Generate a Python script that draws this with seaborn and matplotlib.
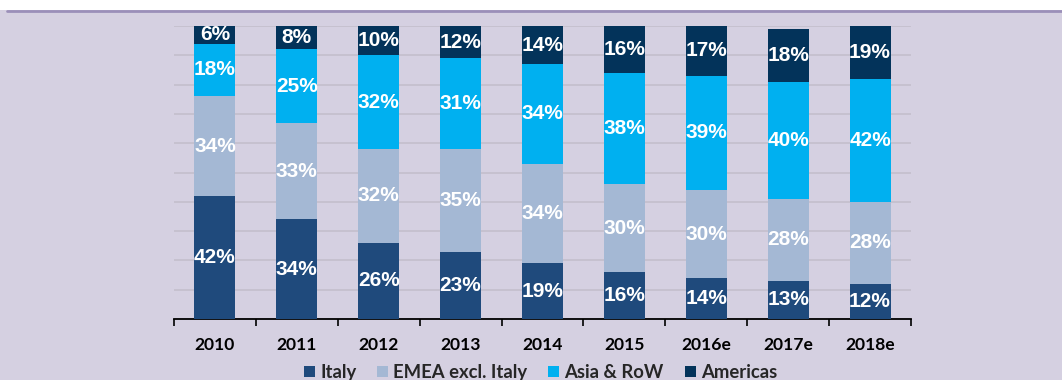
import numpy as np
import pandas as pd
import matplotlib
matplotlib.use("Agg")
import matplotlib.pyplot as plt
from matplotlib.patches import Patch, Rectangle
from matplotlib.lines import Line2D
import seaborn as sns

# Revenue mix by region (% of total)
years = ["2010", "2011", "2012", "2013", "2014", "2015", "2016e", "2017e", "2018e"]
italy = [42, 34, 26, 23, 19, 16, 14, 13, 12]
emea = [34, 33, 32, 35, 34, 30, 30, 28, 28]
asia = [18, 25, 32, 31, 34, 38, 39, 40, 42]
americas = [6, 8, 10, 12, 14, 16, 17, 18, 19]

series_names = ["Italy", "EMEA excl. Italy", "Asia & RoW", "Americas"]
colors = ["#1f4a7c", "#a4b8d4", "#00b0f0", "#03335a"]
BG = "#d5d0e1"

sns.set_theme(style="white")
plt.rcParams["font.family"] = ["Lato", "DejaVu Sans"]

layers = np.array([italy, emea, asia, americas], dtype=float)
cum = np.cumsum(layers, axis=0)

fig = plt.figure(figsize=(10.62, 3.8), dpi=100, facecolor=BG)
# white band and accent rule along the top edge
fig.patches.append(Rectangle((0, 1 - 10 / 380), 1, 10 / 380, transform=fig.transFigure,
                             facecolor="white", edgecolor="none", zorder=0))
fig.lines.append(Line2D([7 / 1062, 1], [1 - 11 / 380, 1 - 11 / 380], transform=fig.transFigure,
                        color="#9b8fb9", lw=2, zorder=1))

ax = fig.add_axes([174 / 1062, 1 - 319 / 380, 737 / 1062, 293 / 380])
ax.set_facecolor(BG)

# stacked columns: draw cumulative totals from the top layer down
for k in range(3, -1, -1):
    d = pd.DataFrame({"year": years, "value": cum[k]})
    sns.barplot(data=d, x="year", y="value", color=colors[k], saturation=1,
                width=0.5, edgecolor="none", linewidth=0, ax=ax, zorder=3)

# value labels centred in each segment
for k in range(4):
    for i in range(len(years)):
        v = layers[k, i]
        base = cum[k, i] - v
        ax.text(i, min(base + v / 2, 100 - (100 - base) / 2), f"{int(v)}%",
                ha="center", va="center", color="white", fontsize=15, fontweight="bold",
                family=["Liberation Sans", "DejaVu Sans"], zorder=5)

ax.set_ylim(0, 100)
ax.set_xlim(-0.5, len(years) - 0.5)
ax.set_yticks(np.arange(0, 101, 10))
ax.yaxis.grid(True, color="#c4bfcc", lw=1.2, zorder=0)
ax.set_axisbelow(True)
ax.tick_params(axis="y", left=False, labelleft=False)
ax.set_xlabel("")
ax.set_ylabel("")

for s in ["top", "right", "left"]:
    ax.spines[s].set_visible(False)
ax.spines["bottom"].set_color("black")
ax.spines["bottom"].set_linewidth(1.3)

ax.set_xticks(range(len(years)))
ax.set_xticklabels(years, fontsize=12.6, fontweight="bold", color="black")
ax.tick_params(axis="x", which="major", length=0, pad=13)
ax.set_xticks(np.arange(-0.5, len(years), 1), minor=True)
ax.tick_params(axis="x", which="minor", length=5, width=1.2, color="black", direction="out")
ax.xaxis.set_ticks_position("bottom")

handles = [Patch(facecolor=c, edgecolor="none", label=n) for c, n in zip(colors, series_names)]
fig.legend(handles=handles, loc="center", bbox_to_anchor=(540.5 / 1062, 1 - 372.5 / 380),
           ncol=4, frameon=False, prop={"weight": "bold", "size": 13.3},
           handlelength=0.6, handleheight=0.6, handletextpad=0.28,
           columnspacing=1.12, borderpad=0, borderaxespad=0)

fig.savefig("out.png", dpi=100, facecolor=BG)
